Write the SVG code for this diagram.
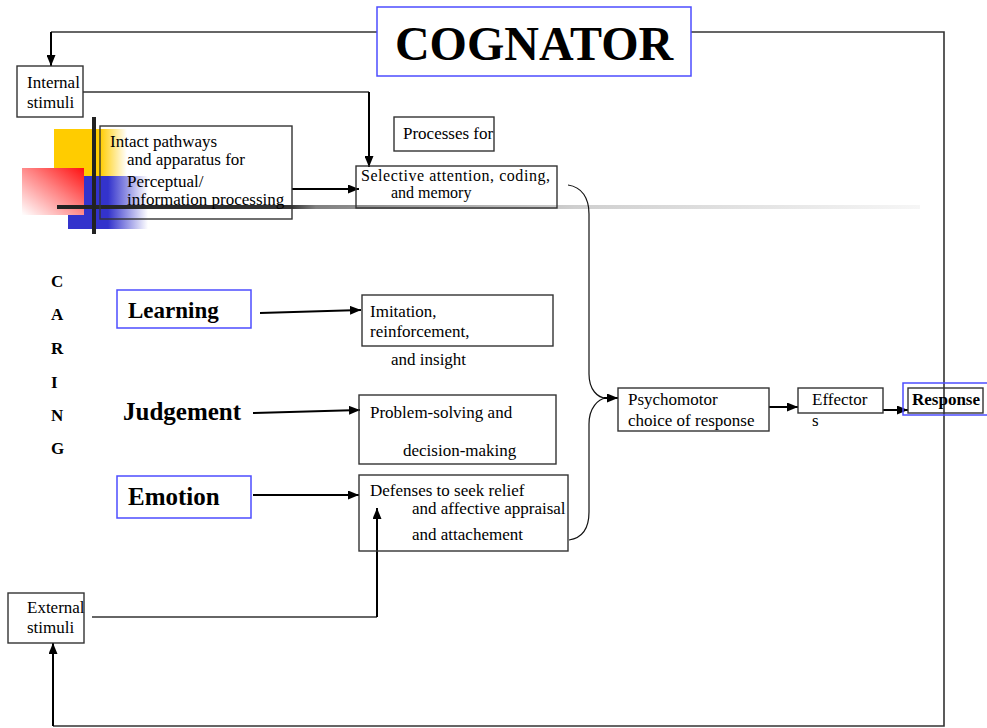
<svg xmlns="http://www.w3.org/2000/svg" width="987" height="728" viewBox="0 0 987 728">
  <style>
    text { font-family: "Liberation Serif", "Times New Roman", serif; fill: #000; }
    .t { font-size: 17px; }
    .s { font-size: 16px; }
    .b { font-weight: bold; }
    .box { fill: none; stroke: #333; stroke-width: 1.4; }
    .blue { fill: none; stroke: #4d4dff; stroke-width: 1.5; }
    .ln { fill: none; stroke: #333; stroke-width: 1.6; }
    .ar { fill: none; stroke: #000; stroke-width: 2; marker-end: url(#arrow); }
    .thin { fill: none; stroke: #111; stroke-width: 1.2; }
  </style>
  <defs>
    <marker id="arrow" markerUnits="userSpaceOnUse" markerWidth="11" markerHeight="9" refX="11" refY="4.5" orient="auto">
      <path d="M0,0 L11,4.5 L0,9 z" fill="#000"/>
    </marker>
    <linearGradient id="yellowFade" x1="0" y1="0" x2="1" y2="0">
      <stop offset="0" stop-color="#ffcc00"/>
      <stop offset="0.63" stop-color="#ffcc00"/>
      <stop offset="1" stop-color="#ffcc00" stop-opacity="0"/>
    </linearGradient>
    <linearGradient id="blueFade" x1="0" y1="0" x2="1" y2="0">
      <stop offset="0" stop-color="#3333cc"/>
      <stop offset="0.5" stop-color="#3333cc"/>
      <stop offset="1" stop-color="#3333cc" stop-opacity="0"/>
    </linearGradient>
    <linearGradient id="redFade" x1="1" y1="0" x2="0" y2="1">
      <stop offset="0" stop-color="#ff1010"/>
      <stop offset="0.45" stop-color="#ff8080"/>
      <stop offset="1" stop-color="#ffffff"/>
    </linearGradient>
    <linearGradient id="ruleFade" x1="0" y1="0" x2="1" y2="0">
      <stop offset="0" stop-color="#222"/>
      <stop offset="0.27" stop-color="#333"/>
      <stop offset="0.3" stop-color="#808080"/>
      <stop offset="0.6" stop-color="#cfcfcf"/>
      <stop offset="1" stop-color="#f6f6f6"/>
    </linearGradient>
  </defs>

  <!-- decorative corner squares and rules -->
  <g id="ornament">
    <rect x="54" y="129" width="73" height="47" fill="url(#yellowFade)"/>
    <rect x="68" y="176" width="80" height="53" fill="url(#blueFade)"/>
    <rect x="22" y="168" width="62" height="47" fill="url(#redFade)"/>
    <rect x="57" y="205" width="863" height="4" fill="url(#ruleFade)"/>
    <rect x="92" y="117" width="4" height="117" fill="#222"/>
  </g>

  <!-- connectors -->
  <g id="connectors">
    <path class="ln" d="M377,32 H51"/>
    <path class="ar" d="M51,32 V66"/>
    <path class="ln" d="M691,32 H944 V726 H53"/>
    <path class="ar" d="M53,726 V643"/>
    <path class="ln" d="M83,92 H369"/>
    <path class="ar" d="M369,92 V167"/>
    <path class="ar" d="M292,189 H359"/>
    <path class="thin" d="M568,185 C582,187 589,198 589,214 V374 C589,390 598,398 606,398"/>
    <path class="thin" d="M569,540 C582,538 589,528 589,512 V424 C589,408 598,399 606,398"/>
    <path class="ar" d="M604,398 H618"/>
    <path class="ar" d="M260,313 L361,310"/>
    <path class="ar" d="M253,413 L360,410"/>
    <path class="ar" d="M253,495 H359"/>
    <path class="ln" d="M92,617 H377"/>
    <path class="ar" d="M377,617 V508"/>
    <path class="ar" d="M769,407 H798"/>
    <path class="ar" d="M883,410 H908"/>
  </g>

  <g id="cognator">
    <rect class="blue" x="377" y="7" width="314" height="69"/>
    <text x="534" y="60" text-anchor="middle" class="b" font-size="48">COGNATOR</text>
  </g>

  <g id="internal-stimuli">
    <rect class="box" x="17" y="66" width="66" height="51"/>
    <text class="t" x="27" y="88">Internal</text>
    <text class="t" x="27" y="108">stimuli</text>
  </g>

  <g id="intact-pathways">
    <rect class="box" x="100" y="126" width="192" height="93"/>
    <text class="t" x="110" y="147">Intact pathways</text>
    <text class="t" x="127" y="165">and apparatus for</text>
    <text class="t" x="127" y="187">Perceptual/</text>
    <text class="t" x="127" y="205">information processing</text>
  </g>

  <g id="processes-for">
    <rect class="box" x="394" y="117" width="100" height="34"/>
    <text class="t" x="403" y="139">Processes for</text>
  </g>

  <g id="selective-attention">
    <rect class="box" x="356" y="166" width="201" height="42"/>
    <text class="s" x="361" y="181" textLength="189">Selective attention, coding,</text>
    <text class="s" x="391" y="198">and memory</text>
  </g>

  <g id="caring">
    <text class="t b" x="51" y="287">C</text>
    <text class="t b" x="51" y="320">A</text>
    <text class="t b" x="51" y="354">R</text>
    <text class="t b" x="51" y="388">I</text>
    <text class="t b" x="51" y="421">N</text>
    <text class="t b" x="51" y="454">G</text>
  </g>

  <g id="learning">
    <rect class="blue" x="117" y="290" width="134" height="38"/>
    <text class="b" x="128" y="318" font-size="23">Learning</text>
  </g>

  <g id="judgement">
    <text class="b" x="123" y="420" font-size="25">Judgement</text>
  </g>

  <g id="emotion">
    <rect class="blue" x="117" y="476" width="134" height="42"/>
    <text class="b" x="128" y="505" font-size="25">Emotion</text>
  </g>

  <g id="imitation">
    <rect class="box" x="362" y="295" width="191" height="51"/>
    <text class="t" x="370" y="317">Imitation,</text>
    <text class="t" x="370" y="337">reinforcement,</text>
    <text class="t" x="391" y="365">and insight</text>
  </g>

  <g id="problem-solving">
    <rect class="box" x="359" y="395" width="197" height="69"/>
    <text class="t" x="370" y="418">Problem-solving and</text>
    <text class="t" x="403" y="456">decision-making</text>
  </g>

  <g id="defenses">
    <rect class="box" x="359" y="475" width="209" height="76"/>
    <text class="t" x="370" y="496">Defenses to seek relief</text>
    <text class="t" x="412" y="514">and affective appraisal</text>
    <text class="t" x="412" y="540">and attachement</text>
  </g>

  <g id="external-stimuli">
    <rect class="box" x="8" y="593" width="76" height="50"/>
    <text class="t" x="27" y="613">External</text>
    <text class="t" x="27" y="633">stimuli</text>
  </g>

  <g id="psychomotor">
    <rect class="box" x="618" y="388" width="151" height="43"/>
    <text class="t" x="628" y="405">Psychomotor</text>
    <text class="t" x="628" y="426">choice of response</text>
  </g>

  <g id="effectors">
    <rect class="box" x="798" y="388" width="85" height="25"/>
    <text class="t" x="812" y="405">Effector</text>
    <text class="t" x="812" y="426">s</text>
  </g>

  <g id="response">
    <rect class="blue" x="903" y="383" width="90" height="32"/>
    <rect class="box" x="908" y="388" width="75" height="25"/>
    <text class="t b" x="912" y="405">Response</text>
  </g>
</svg>
